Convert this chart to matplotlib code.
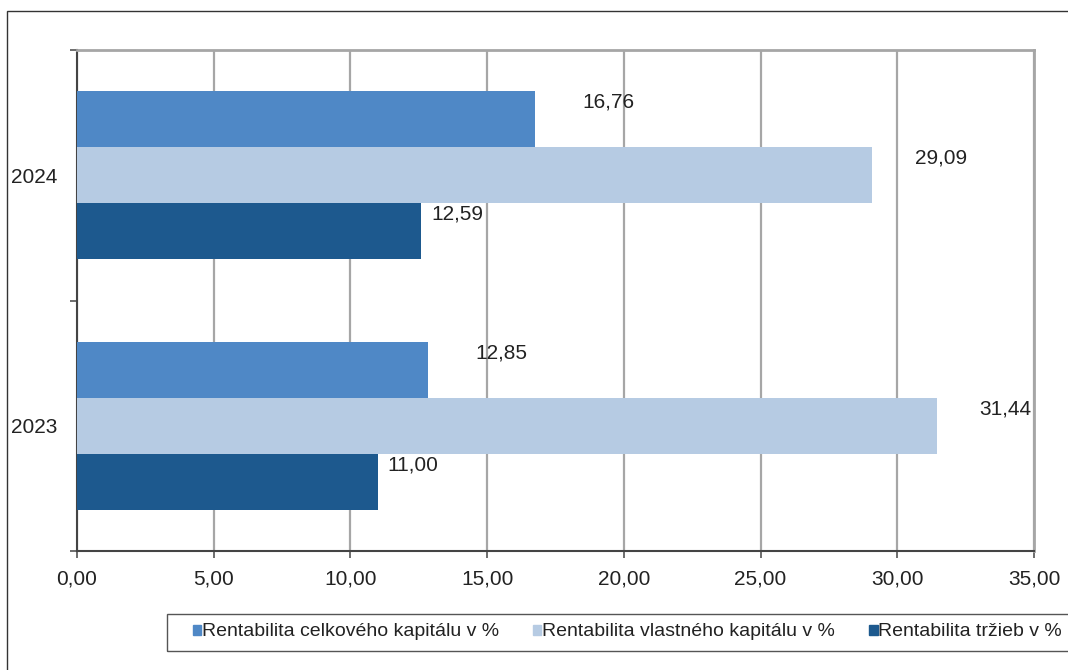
import numpy as np
import matplotlib.pyplot as plt
from matplotlib.patches import Patch, Rectangle
from matplotlib.ticker import FixedLocator

plt.rcParams['font.family'] = ['Liberation Sans', 'DejaVu Sans']

# Ukazovatele rentability podla rokov
roky = ["2023", "2024"]
nazvy = ["Rentabilita celkového kapitálu v %",
         "Rentabilita vlastného kapitálu v %",
         "Rentabilita tržieb v %"]
celkovy_kapital = [12.85, 16.76]
vlastny_kapital = [31.44, 29.09]
trzby = [11.00, 12.59]

farby = ["#4f88c6", "#b6cbe3", "#1d598e"]
posun_popisu = [47, 43, 10]  # horizontalny posun popisu hodnoty (px)

fig = plt.figure(figsize=(10.68, 6.7), dpi=100)
ax = fig.add_axes([77/1068, 1 - 551/670, 957/1068, 501/670])

y = np.arange(len(roky))
h = 0.223
serie = [celkovy_kapital, vlastny_kapital, trzby]
for i, hodnoty in enumerate(serie):
    poz = y + h * (1 - i)
    ax.barh(poz, hodnoty, height=h, color=farby[i], label=nazvy[i], zorder=3)
    for yy, v in zip(poz, hodnoty):
        ax.annotate(f"{v:.2f}".replace(".", ","), xy=(v, yy),
                    xytext=(posun_popisu[i], 17), textcoords="offset pixels",
                    ha="left", va="center", fontsize=15, color="#222222")

ax.set_xlim(0, 35)
ax.set_ylim(-0.5, 1.5)
ax.set_xticks(np.arange(0, 36, 5))
ax.set_xticklabels([f"{t:.2f}".replace(".", ",") for t in np.arange(0, 36, 5)])
ax.set_yticks(y)
ax.set_yticklabels(roky)
ax.yaxis.set_minor_locator(FixedLocator([-0.5, 0.5, 1.5]))
ax.tick_params(axis="y", which="major", length=0, pad=14, labelsize=15, labelcolor="#222222")
ax.tick_params(axis="y", which="minor", length=5, width=1.2, color="#555555")
ax.tick_params(axis="x", length=5, width=1.2, color="#555555", pad=8,
               labelsize=15, labelcolor="#222222")

ax.grid(axis="x", color="#a6a6a6", linewidth=1.6, zorder=0)
for s in ["top", "right"]:
    ax.spines[s].set_color("#a6a6a6")
    ax.spines[s].set_linewidth(2)
for s in ["left", "bottom"]:
    ax.spines[s].set_color("#444444")
    ax.spines[s].set_linewidth(1.5)

# vonkajsi ramik grafu
fig.add_artist(Rectangle((7/1068, -0.1), 1.2, 1 - 11/670 + 0.1,
                         transform=fig.transFigure, fill=False,
                         edgecolor="#333333", linewidth=1))

# ramik legendy presahuje pravy okraj
fig.add_artist(Rectangle((167/1068, 1 - 651/670), 1.0, 37/670,
                         transform=fig.transFigure, fill=False,
                         edgecolor="#555555", linewidth=1))

handles = [Patch(color=c) for c in farby]
leg = fig.legend(handles, nazvy, loc="center left",
                 bbox_to_anchor=(193/1068, 1 - 632/670), ncol=3,
                 borderaxespad=0, borderpad=0, fontsize=14, frameon=False,
                 handlelength=0.42, handleheight=0.42, handletextpad=0.05,
                 columnspacing=1.75)
for t in leg.get_texts():
    t.set_color("#222222")

fig.savefig("out.png", dpi=100)
